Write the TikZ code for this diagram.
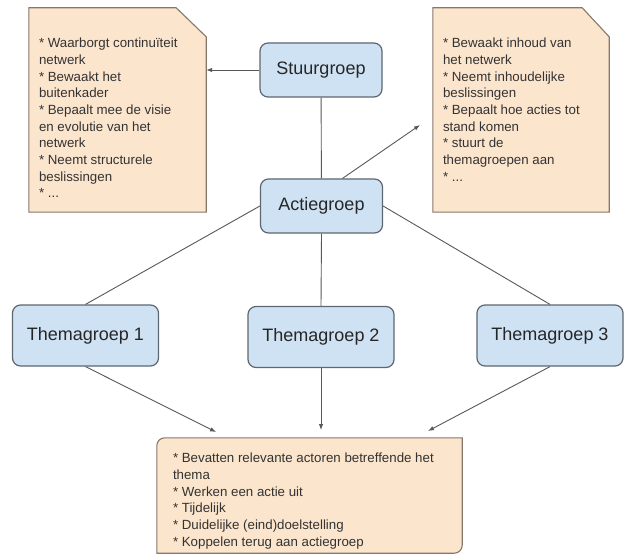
\documentclass[tikz,border=0pt]{standalone}
\usepackage{fontspec}
\setmainfont{Liberation Sans}
\usepackage{xcolor}
\usetikzlibrary{arrows.meta,positioning}
\definecolor{boxfill}{HTML}{CFE2F3}
\definecolor{boxline}{HTML}{5E6670}
\definecolor{notefill}{HTML}{FCE5CD}
\definecolor{noteline}{HTML}{86786A}
\definecolor{linkcol}{HTML}{585858}
\tikzset{
    x=1pt,y=-1pt,
    groep/.style ={rectangle, rounded corners=8pt, draw=boxline, fill=boxfill, line width=1.2pt,
        minimum width=122pt, minimum height=54pt, text=black!85, font=\fontsize{18}{21}\selectfont},
    thema/.style ={groep, minimum width=146pt, minimum height=61pt},
    notebox/.style ={rectangle, inner sep=0pt},
    noteedge/.style ={draw=noteline, fill=notefill, line width=1.1pt},
    notetext/.style ={anchor=north west, align=left, inner sep=0pt, text=black!80,
        font=\fontsize{13.3}{16.7}\selectfont},
    link/.style ={draw=linkcol, line width=0.9pt},
    arrow/.style ={link, -{Latex[length=6pt,width=4.5pt]}}
}
\begin{document}
\begin{tikzpicture}
        \useasboundingbox (0,0) rectangle (624,556);

        \node[groep] (stuur) at (321,70) {Stuurgroep};
        \node[groep] (actie) at (321.5,206) {Actiegroep};

        \node[thema] (thema1) at (85.5,335.5) {Themagroep 1};
        \node[thema] (thema2) at (321,337) {Themagroep 2};
        \node[thema] (thema3) at (550,335.5) {Themagroep 3};

        % notes
        \node[notebox, minimum width=177pt, minimum height=204pt] (beleid) at (117.5,110) {};
        \filldraw[noteedge] (beleid.north west) -- ([xshift=-30pt]beleid.north east)
            -- ([yshift=-29pt]beleid.north east) -- (beleid.south east) -- (beleid.south west) -- cycle;
        \node[notetext, below right=30pt and 10pt of beleid.north west] (beleidtxt)
        {* Waarborgt continuïteit\\netwerk\\{}* Bewaakt het\\buitenkader\\{}* Bepaalt mee de visie\\en evolutie van het\\netwerk\\{}* Neemt structurele\\beslissingen\\{}* ...};

        \node[notebox, minimum width=176pt, minimum height=204pt] (inhoud) at (521,110) {};
        \filldraw[noteedge] (inhoud.north west) -- ([xshift=-27pt]inhoud.north east)
            -- ([yshift=-29pt]inhoud.north east) -- (inhoud.south east) -- (inhoud.south west) -- cycle;
        \node[notetext, below right=30pt and 10pt of inhoud.north west] (inhoudtxt)
        {* Bewaakt inhoud van\\het netwerk\\{}* Neemt inhoudelijke\\beslissingen\\{}* Bepaalt hoe acties tot\\stand komen\\{}* stuurt de\\themagroepen aan\\{}* ...};

        \node[notebox, minimum width=305pt, minimum height=115pt] (kenmerk) at (309.5,495.5) {};
        \filldraw[noteedge] (kenmerk.north east) -- ([yshift=8pt]kenmerk.south east)
            arc[start angle=0, end angle=-90, radius=8pt] -- (kenmerk.south west)
            -- ([yshift=-8pt]kenmerk.north west) arc[start angle=180, end angle=90, radius=8pt] -- cycle;
        \node[notetext, below right=15pt and 16pt of kenmerk.north west] (kenmerktxt)
        {* Bevatten relevante actoren betreffende het\\thema\\{}* Werken een actie uit\\{}* Tijdelijk\\{}* Duidelijke (eind)doelstelling\\{}* Koppelen terug aan actiegroep};

        % free ends of the arrows
        \coordinate (naarinhoud) at (420,125);
        \coordinate (in1) at (216,432);
        \coordinate (in2) at (321,430);
        \coordinate (in3) at (428,431);

        \draw[arrow] (stuur.west) -- (stuur.west -| beleid.east);
        \draw[link] (stuur) -- (actie);
        \draw[arrow] ([xshift=21pt]actie.north) -- (naarinhoud);

        \draw[link] (actie.west) -- (thema1.north);
        \draw[link] (actie.south) -- (thema2.north);
        \draw[link] (actie.east) -- (thema3.north);

        \draw[arrow] (thema1.south) -- (in1);
        \draw[arrow] (thema2.south) -- (in2);
        \draw[arrow] (thema3.south) -- (in3);
      \end{tikzpicture}
\end{document}
